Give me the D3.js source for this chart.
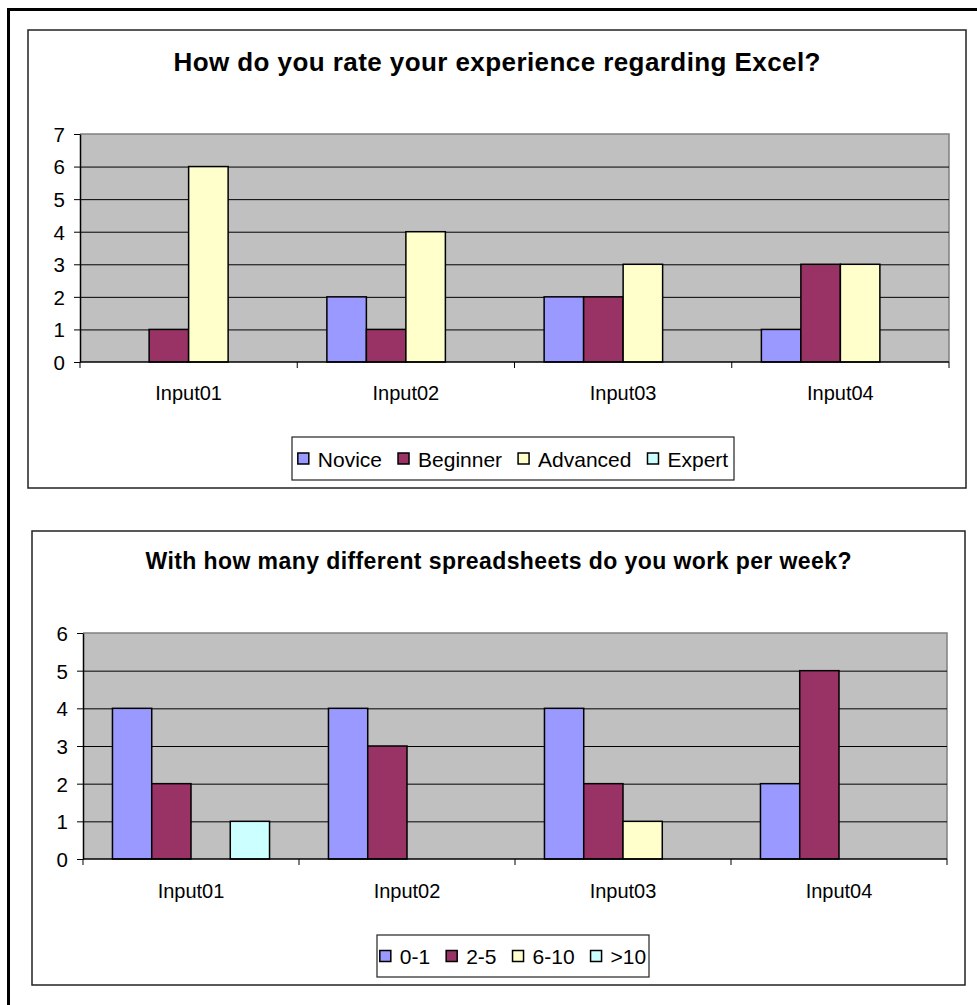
<!DOCTYPE html>
<html>
<head>
<meta charset="utf-8">
<script src="https://cdn.jsdelivr.net/npm/d3@7/dist/d3.min.js"></script>
<style>
  body { margin: 0; background: #fff; }
  text { font-family: Arial, "Liberation Sans", sans-serif; fill: #000; }
</style>
</head>
<body>
<script>
const width = 977
const height = 1005

// chart 1 data
const title1 = 'How do you rate your experience regarding Excel?'
const categories1 = ['Input01', 'Input02', 'Input03', 'Input04']
const series1 = ['Novice', 'Beginner', 'Advanced', 'Expert']
const novice = [0, 2, 2, 1]
const beginner = [1, 1, 2, 3]
const advanced = [6, 4, 3, 3]
const expert = [0, 0, 0, 0]
const yTicks1 = [0, 1, 2, 3, 4, 5, 6, 7]

// chart 2 data
const title2 = 'With how many different spreadsheets do you work per week?'
const categories2 = ['Input01', 'Input02', 'Input03', 'Input04']
const series2 = ['0-1', '2-5', '6-10', '>10']
const s01 = [4, 4, 4, 2]
const s25 = [2, 3, 2, 5]
const s610 = [0, 0, 1, 0]
const s10plus = [1, 0, 0, 0]
const yTicks2 = [0, 1, 2, 3, 4, 5, 6]

const colors = ['#9999ff', '#993366', '#ffffcc', '#ccffff']

const svg = d3.select('body').append('svg')
  .attr('width', width)
  .attr('height', height)

// outer frame
svg.append('rect')
  .attr('x', 8.5).attr('y', 9.5)
  .attr('width', 1000).attr('height', 1020)
  .attr('fill', 'none').attr('stroke', '#000').attr('stroke-width', 3)

function drawChart(g, o) {
  // chart box
  g.append('rect')
    .attr('x', o.box[0]).attr('y', o.box[1])
    .attr('width', o.box[2] - o.box[0]).attr('height', o.box[3] - o.box[1])
    .attr('fill', '#fff').attr('stroke', '#222').attr('stroke-width', 1.5)

  g.append('text')
    .attr('x', (o.box[0] + o.box[2]) / 2).attr('y', o.titleY)
    .attr('text-anchor', 'middle')
    .attr('font-size', o.titleSize).attr('font-weight', 'bold')
    .attr('textLength', o.titleLen).attr('lengthAdjust', 'spacing')
    .text(o.title)

  const [px0, py0, px1, py1] = o.plot
  const x0 = d3.scaleBand().domain(o.categories).range([px0, px1])
  const x1 = d3.scaleBand().domain(o.series).range([0, x0.bandwidth()]).paddingOuter(0.75)
  const y = d3.scaleLinear().domain([0, d3.max(o.yTicks)]).range([py1, py0])

  // plot background
  g.append('rect')
    .attr('x', px0).attr('y', py0)
    .attr('width', px1 - px0).attr('height', py1 - py0)
    .attr('fill', '#c0c0c0')
  // top / right border grey
  g.append('path')
    .attr('d', `M${px0},${py0}H${px1}V${py1}`)
    .attr('fill', 'none').attr('stroke', '#808080').attr('stroke-width', 1.5)

  // gridlines
  g.append('g')
    .attr('transform', `translate(${px0},0)`)
    .call(d3.axisLeft(y).tickValues(o.yTicks.slice(1, -1)).tickSize(-(px1 - px0)).tickFormat(''))
    .call(a => a.select('.domain').remove())
    .selectAll('line').attr('stroke', '#000').attr('stroke-width', 1)

  // bars
  const rows = []
  o.categories.forEach((c, i) => {
    o.series.forEach((s, j) => {
      if (o.values[j][i] > 0) rows.push({ c: c, s: s, v: o.values[j][i], j: j })
    })
  })
  g.append('g').selectAll('rect')
    .data(rows)
    .join('rect')
    .attr('x', d => x0(d.c) + x1(d.s))
    .attr('y', d => y(d.v))
    .attr('width', x1.bandwidth())
    .attr('height', d => y(0) - y(d.v))
    .attr('fill', d => colors[d.j])
    .attr('stroke', '#000').attr('stroke-width', 1.5)

  // y axis
  const ya = g.append('g')
    .attr('transform', `translate(${px0},0)`)
    .call(d3.axisLeft(y).tickValues(o.yTicks).tickFormat(d3.format('d')).tickSize(6).tickSizeOuter(0).tickPadding(9))
  ya.select('.domain').attr('stroke', '#000').attr('stroke-width', 1.5)
  ya.selectAll('.tick line').attr('stroke', '#000')
  ya.selectAll('text').attr('font-size', 20.5).attr('font-family', 'Arial, "Liberation Sans", sans-serif').attr('dy', '0.36em')

  // x axis
  const xa = g.append('g')
    .attr('transform', `translate(0,${py1})`)
    .call(d3.axisBottom(x0).tickSize(0).tickPadding(0))
  xa.select('.domain').remove()
  xa.selectAll('text')
    .attr('font-size', 20).attr('font-family', 'Arial, "Liberation Sans", sans-serif')
    .attr('dy', null).attr('y', o.labelY - py1)
  g.append('line')
    .attr('x1', px0).attr('x2', px1).attr('y1', py1).attr('y2', py1)
    .attr('stroke', '#000').attr('stroke-width', 1.5)
  const bounds = o.categories.map(c => x0(c)).concat([px1])
  g.append('g').selectAll('line')
    .data(bounds)
    .join('line')
    .attr('x1', d => d).attr('x2', d => d)
    .attr('y1', py1).attr('y2', py1 + 6)
    .attr('stroke', '#000').attr('stroke-width', 1)

  // legend
  const lg = g.append('g')
  const items = lg.selectAll('g')
    .data(o.series)
    .join('g')
  items.append('rect')
    .attr('width', 11).attr('height', 11)
    .attr('fill', (d, i) => colors[i])
    .attr('stroke', '#000').attr('stroke-width', 1.5)
  items.append('text')
    .attr('x', 20).attr('y', 6).attr('dy', '0.36em')
    .attr('font-size', 21)
    .text(d => d)
  let cx = 0
  items.each(function () {
    const w = d3.select(this).select('text').node().getComputedTextLength()
    d3.select(this).attr('transform', `translate(${cx},0)`)
    cx += 20 + w + o.legendGap
  })
  const total = cx - o.legendGap
  const lb = o.legendBox
  const lx = (lb[0] + lb[2]) / 2 - total / 2
  const ly = (lb[1] + lb[3]) / 2 - 5.5
  lg.insert('rect', ':first-child')
    .attr('x', -(lx - lb[0])).attr('y', -(ly - lb[1]))
    .attr('width', lb[2] - lb[0]).attr('height', lb[3] - lb[1])
    .attr('fill', '#fff').attr('stroke', '#222').attr('stroke-width', 1.2)
  lg.attr('transform', `translate(${lx},${ly})`)
}

drawChart(svg.append('g'), {
  title: title1, titleY: 71, titleSize: 26, titleLen: 647,
  box: [28, 30, 966, 488],
  plot: [80, 134, 949, 362],
  categories: categories1, series: series1,
  values: [novice, beginner, advanced, expert],
  yTicks: yTicks1, labelY: 400,
  legendBox: [292, 437, 734, 480], legendGap: 16
})

drawChart(svg.append('g'), {
  title: title2, titleY: 569, titleSize: 23, titleLen: 706,
  box: [32, 531, 965, 985],
  plot: [83, 633, 947, 859],
  categories: categories2, series: series2,
  values: [s01, s25, s610, s10plus],
  yTicks: yTicks2, labelY: 898,
  legendBox: [377, 935, 649, 977], legendGap: 16
})
</script>
</body>
</html>
